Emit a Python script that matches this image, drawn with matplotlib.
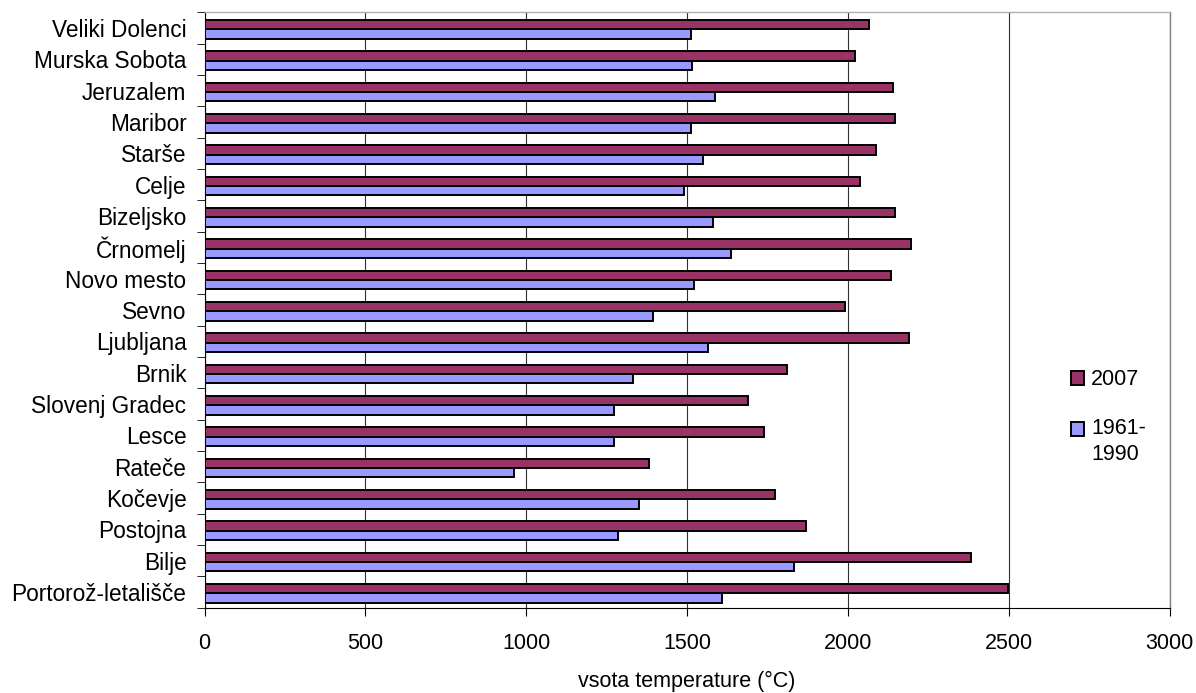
import numpy as np
import matplotlib.pyplot as plt

plt.rcParams['font.family'] = ['Liberation Sans', 'DejaVu Sans']

stations = ["Veliki Dolenci", "Murska Sobota", "Jeruzalem", "Maribor", "Starše",
            "Celje", "Bizeljsko", "Črnomelj", "Novo mesto", "Sevno", "Ljubljana",
            "Brnik", "Slovenj Gradec", "Lesce", "Rateče", "Kočevje", "Postojna",
            "Bilje", "Portorož-letališče"]
sum_2007 = [2065, 2022, 2141, 2147, 2087, 2038, 2147, 2196, 2135, 1990, 2190,
            1809, 1690, 1740, 1381, 1774, 1871, 2381, 2496]
sum_1961_1990 = [1512, 1516, 1587, 1512, 1550, 1490, 1581, 1637, 1522, 1393, 1565,
                 1331, 1274, 1274, 962, 1349, 1284, 1833, 1609]
x_ticks = [0, 500, 1000, 1500, 2000, 2500, 3000]

fs = 15.5

fig = plt.figure(figsize=(11.96, 6.93), dpi=100)
ax = fig.add_axes([0.171, 0.123, 0.807, 0.859])

n = len(stations)
pos = np.arange(n)[::-1] - 0.04
h = 0.30
ax.barh(pos + h / 2, sum_2007, height=h, color="#993366", edgecolor="black",
        linewidth=1.4, label="2007", zorder=3)
ax.barh(pos - h / 2, sum_1961_1990, height=h, color="#9999FF", edgecolor="black",
        linewidth=1.4, label="1961-\n1990", zorder=3)

ax.set_xlim(0, 3000)
ax.set_ylim(-0.5, n - 0.5)
ax.set_xticks(x_ticks)
ax.set_xticklabels([str(v) for v in x_ticks], fontsize=fs)
ax.tick_params(axis="x", length=6, pad=12)
ax.set_yticks(np.arange(n)[::-1])
ax.set_yticklabels(stations, fontsize=16.3)
ax.tick_params(axis="y", which="major", length=0, pad=13)
ax.set_yticks(np.arange(n + 1) - 0.5, minor=True)
ax.tick_params(axis="y", which="minor", length=6)
ax.xaxis.grid(True, color="#303030", linewidth=0.8, zorder=0)

ax.spines["top"].set_color("#b0b0b0")
ax.spines["right"].set_color("#808080")
ax.spines["top"].set_linewidth(1.0)
ax.spines["right"].set_linewidth(1.0)

ax.set_xlabel("vsota temperature (°C)", fontsize=fs, labelpad=12)

leg = ax.legend(loc="center left", bbox_to_anchor=(0.888, 0.398),
                bbox_transform=fig.transFigure, borderaxespad=0, frameon=False,
                fontsize=fs, handlelength=0.6, handleheight=0.6,
                handletextpad=0.35, labelspacing=1.3)
leg.get_texts()[1].set_linespacing(1.3)
# put the square next to the first line of "1961-\n1990"
sq = leg.legend_handles[1]
sq.set_y(sq.get_y() + 0.62 * fs)

fig.savefig("out.png", dpi=100)
